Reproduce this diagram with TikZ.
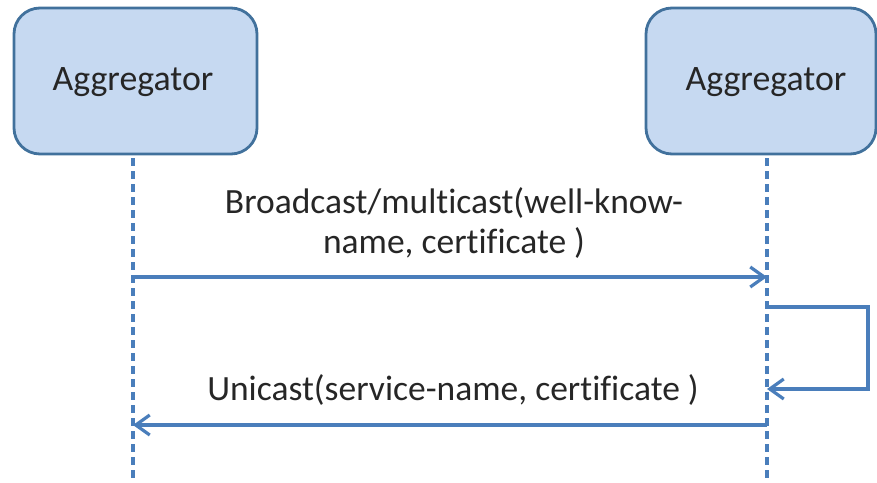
\documentclass[tikz,border=0pt]{standalone}
\usepackage{fontspec}
\setmainfont[Ligatures=NoCommon]{Carlito}
\usetikzlibrary{arrows.meta}
\definecolor{boxfill}{HTML}{C6D9F1}
\definecolor{boxline}{HTML}{41719C}
\definecolor{msgline}{HTML}{4A7EBB}
\begin{document}
\begin{tikzpicture}[x=1pt,y=-1pt,
  actor/.style={draw=boxline,fill=boxfill,line width=2.8pt,rounded corners=26pt},
  life/.style={draw=msgline,line width=3.2pt,dash pattern=on 8pt off 5pt},
  msg/.style={draw=msgline,line width=3.2pt,-{Straight Barb[length=14pt,width=20pt,line width=3.2pt]}},
  lbl/.style={font=\fontsize{35.5}{40}\selectfont,text=black!85,align=center}]
\useasboundingbox (0,0) rectangle (877,482);
\draw[actor] (14,8) rectangle (257,154);
\node[font=\fontsize{35.8}{40}\selectfont,text=black!85] (a1) at (133,82) {Aggregator};
\draw[actor] (646,8) rectangle (876,154);
\node[font=\fontsize{35.8}{40}\selectfont,text=black!85] (a2) at (766,82) {Aggregator};
\coordinate (l1t) at (133,158);
\coordinate (l1b) at (133,482);
\coordinate (l2t) at (767,158);
\coordinate (l2b) at (767,482);
\draw[life] (l1t) -- (l1b);
\draw[life] (l2t) -- (l2b);
\coordinate (m1s) at (133,277);
\coordinate (m1e) at (767,277);
\draw[msg] (m1s) -- (m1e);
\node[lbl] (t1) at (454,223) {Broadcast/multicast(well-know-\\name, certificate )};
\coordinate (s1) at (767,307);
\coordinate (s2) at (868,307);
\coordinate (s3) at (868,389);
\coordinate (s4) at (767,389);
\draw[msg] (s1) -- (s2) -- (s3) -- (s4);
\coordinate (m2s) at (767,425);
\coordinate (m2e) at (133,425);
\draw[msg] (m2s) -- (m2e);
\node[lbl] (t2) at (453,390) {Unicast(service-name, certificate )};
\end{tikzpicture}
\end{document}
